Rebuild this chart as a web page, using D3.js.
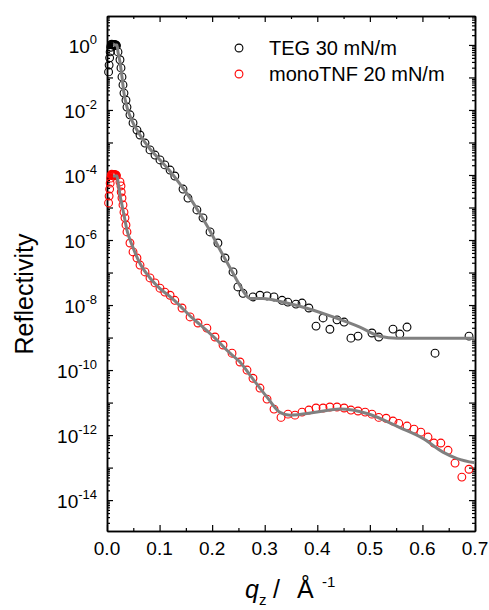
<!DOCTYPE html>
<html>
<head>
<meta charset="utf-8">
<script src="https://cdn.jsdelivr.net/npm/d3@7"></script>
<style>
  body { margin: 0; background: #fff; }
  text { font-family: "Liberation Sans", Arial, sans-serif; fill: #000; }
</style>
</head>
<body>
<svg id="chart"></svg>
<script>
// TEG 30 mN/m  (q in 1/A, R)
const tegQ = [0.003, 0.004, 0.005, 0.006, 0.007, 0.008, 0.009, 0.010, 0.011, 0.012, 0.013, 0.014, 0.015, 0.016, 0.017, 0.018,
  0.0209, 0.0247, 0.0266, 0.0285, 0.0304, 0.0323, 0.0361, 0.038, 0.0437, 0.0495, 0.057, 0.0628, 0.0723, 0.0818, 0.0913,
  0.1008, 0.110, 0.120, 0.129, 0.1446, 0.154, 0.171, 0.1826, 0.196, 0.211, 0.2245, 0.2397, 0.249, 0.2587, 0.2777, 0.291,
  0.3044, 0.3177, 0.333, 0.344, 0.3595, 0.371, 0.384, 0.3976, 0.411, 0.424, 0.4375, 0.451, 0.464, 0.4775, 0.504, 0.517,
  0.544, 0.557, 0.5707, 0.624, 0.6886];
const tegR = [0.148, 0.24, 0.40, 0.61, 0.85, 1.02, 1.05, 1.0, 1.04, 1.0, 1.03, 1.0, 1.02, 0.98, 1.0, 0.95,
  0.61, 0.35, 0.196, 0.104, 0.059, 0.033, 0.020, 0.0123, 0.0071, 0.0040, 0.0024, 0.0017, 9.6e-4, 5.9e-4, 4.1e-4,
  2.9e-4, 2.04e-4, 1.42e-4, 9.3e-5, 3.7e-5, 1.95e-5, 8.4e-6, 4.8e-6, 1.77e-6, 8.1e-7, 2.8e-7, 1.04e-7, 3.6e-8, 2.3e-8, 1.77e-8, 2.0e-8,
  1.9e-8, 1.77e-8, 1.4e-8, 1.23e-8, 1.07e-8, 1.15e-8, 8.1e-9, 2.25e-9, 4.0e-9, 1.8e-9, 3.5e-9, 3.0e-9, 9.6e-10, 1.11e-9, 1.38e-9, 1.04e-9,
  1.82e-9, 1.28e-9, 2.1e-9, 3.3e-10, 1.11e-9];

// monoTNF 20 mN/m
const tnfQ = [0.003, 0.004, 0.005, 0.006, 0.007, 0.008, 0.009, 0.010, 0.011, 0.012, 0.013, 0.014, 0.015, 0.016, 0.017, 0.018,
  0.0247, 0.0266, 0.027, 0.0285, 0.0304, 0.0323, 0.0342, 0.0361, 0.038, 0.0437, 0.0495, 0.057, 0.0628, 0.0723, 0.0818, 0.0913,
  0.1008, 0.110, 0.120, 0.129, 0.1427, 0.158, 0.173, 0.190, 0.2054, 0.2207, 0.2378, 0.253, 0.2663, 0.2777, 0.291, 0.3044,
  0.3177, 0.331, 0.3443, 0.3576, 0.371, 0.384, 0.3976, 0.411, 0.424, 0.4375, 0.451, 0.464, 0.4775, 0.491, 0.504, 0.517,
  0.531, 0.544, 0.555, 0.5707, 0.584, 0.597, 0.6106, 0.622, 0.635, 0.6487, 0.662, 0.675, 0.6886];
const tnfR = [1.38e-5, 2.25e-5, 3.7e-5, 5.6e-5, 8.0e-5, 1.0e-4, 1.05e-4, 1.0e-4, 1.04e-4, 1.0e-4, 1.03e-4, 1.0e-4, 1.02e-4, 0.98e-4, 1.0e-4, 0.95e-4,
  6.1e-5, 4.6e-5, 3.0e-5, 1.96e-5, 1.2e-5, 7.2e-6, 4.8e-6, 2.9e-6, 1.77e-6, 8.1e-7, 4.3e-7, 2.8e-7, 1.7e-7, 1.04e-7, 6.8e-8, 4.8e-8,
  3.3e-8, 2.5e-8, 2.0e-8, 1.4e-8, 8.1e-9, 4.3e-9, 2.8e-9, 1.95e-9, 1.04e-9, 5.9e-10, 3.3e-10, 1.77e-10, 1.0e-10, 5.6e-11, 2.8e-11, 1.28e-11,
  6.3e-12, 3.5e-12, 4.4e-12, 4.1e-12, 5.1e-12, 5.9e-12, 6.8e-12, 6.8e-12, 7.3e-12, 7.3e-12, 6.8e-12, 5.9e-12, 5.5e-12, 5.1e-12, 4.4e-12, 3.5e-12,
  3.3e-12, 2.7e-12, 2.3e-12, 1.9e-12, 1.52e-12, 1.23e-12, 8.7e-13, 5.7e-13, 5.7e-13, 3.4e-13, 1.38e-13, 5.1e-14, 8.9e-14];

// model fits
const tegFitQ = [0.0114, 0.019, 0.0209, 0.0247, 0.0285, 0.0323, 0.038, 0.0476, 0.0628, 0.0818, 0.1008, 0.120, 0.139, 0.158,
  0.177, 0.196, 0.215, 0.234, 0.253, 0.2625, 0.272, 0.2967, 0.338, 0.380, 0.43, 0.481, 0.519, 0.552, 0.614, 0.70];
const tegFitR = [1, 1, 0.61, 0.30, 0.104, 0.033, 0.0123, 0.0046, 0.0017, 6.3e-4, 2.9e-4, 1.3e-4, 5.2e-5, 1.95e-5,
  6.3e-6, 1.9e-6, 5.0e-7, 1.4e-7, 3.9e-8, 2.2e-8, 1.6e-8, 1.6e-8, 1.2e-8, 8.0e-9, 4.3e-9, 2.1e-9, 1.1e-9, 9.6e-10, 9.6e-10, 9.6e-10];
const tnfFitQ = [0.0114, 0.019, 0.021, 0.0247, 0.0285, 0.0323, 0.038, 0.0476, 0.0628, 0.0818, 0.1008, 0.120, 0.139, 0.158,
  0.177, 0.2054, 0.234, 0.253, 0.272, 0.3044, 0.329, 0.348, 0.3995, 0.443, 0.4946, 0.557, 0.601, 0.639, 0.666, 0.70];
const tnfFitR = [9.3e-5, 9.3e-5, 6.1e-5, 2.4e-5, 1.2e-5, 5.9e-6, 2.0e-6, 7.0e-7, 1.9e-7, 6.8e-8, 3.2e-8, 1.8e-8, 9.4e-9, 4.6e-9,
  2.5e-9, 9.6e-10, 3.3e-10, 1.77e-10, 7.0e-11, 1.47e-11, 5.0e-12, 4.1e-12, 5.1e-12, 6.3e-12, 4.6e-12, 1.7e-12, 7.9e-13, 3.0e-13, 1.9e-13, 1.4e-13];

const xTicks = [0, 0.1, 0.2, 0.3, 0.4, 0.5, 0.6, 0.7];
const yLabelExp = [0, -2, -4, -6, -8, -10, -12, -14];
const seriesNames = ["TEG 30 mN/m", "monoTNF 20 mN/m"];
const seriesColors = ["#000000", "#ff0000"];

const width = 489, height = 610;
const margin = {top: 16, right: 14, bottom: 79, left: 107};

const svg = d3.select("#chart").attr("width", width).attr("height", height);

const x = d3.scaleLinear([0, 0.7], [margin.left, width - margin.right]);
const y = d3.scaleLog([Math.pow(10, -14.95), Math.pow(10, 0.89)], [height - margin.bottom, margin.top]);

// minor / major tick values
const xMinor = d3.range(0.05, 0.7, 0.1);
const decades = d3.range(-14, 1).map(e => Math.pow(10, e));
const yMinor = [];
d3.range(-15, 1).forEach(e => {
  for (let k = 2; k <= 9; k++) {
    const v = k * Math.pow(10, e);
    if (v >= y.domain()[0] && v <= y.domain()[1]) yMinor.push(v);
  }
});

function axisStyle(g) {
  g.select(".domain").attr("stroke", "#000").attr("stroke-width", 1.5);
  g.selectAll(".tick line").attr("stroke", "#000").attr("stroke-width", 1.2);
  g.selectAll(".tick text").remove();
}

// bottom and top (ticks point inward)
[[d3.axisBottom, height - margin.bottom], [d3.axisTop, margin.top]].forEach(([ax, ty]) => {
  svg.append("g").attr("transform", `translate(0,${ty})`)
    .call(ax(x).tickValues(xMinor).tickSize(-3).tickSizeOuter(0)).call(axisStyle);
  svg.append("g").attr("transform", `translate(0,${ty})`)
    .call(ax(x).tickValues(xTicks).tickSize(-6).tickSizeOuter(0)).call(axisStyle);
});

// left and right
[[d3.axisLeft, margin.left], [d3.axisRight, width - margin.right]].forEach(([ax, tx]) => {
  svg.append("g").attr("transform", `translate(${tx},0)`)
    .call(ax(y).tickValues(yMinor).tickSize(-3).tickSizeOuter(0)).call(axisStyle);
  svg.append("g").attr("transform", `translate(${tx},0)`)
    .call(ax(y).tickValues(decades).tickSize(-6).tickSizeOuter(0)).call(axisStyle);
});

// x tick labels
svg.append("g").selectAll("text").data(xTicks).join("text")
  .attr("x", d => x(d)).attr("y", height - margin.bottom + 24)
  .attr("text-anchor", "middle").attr("font-size", 19)
  .text(d => d.toFixed(1));

// y tick labels 10^n
const yl = svg.append("g").selectAll("text").data(yLabelExp).join("text")
  .attr("x", margin.left - 10).attr("y", d => y(Math.pow(10, d)) + 8)
  .attr("text-anchor", "end").attr("font-size", 19);
yl.append("tspan").text("10");
yl.append("tspan").attr("font-size", 13).attr("dy", -9).text(d => d);

// axis titles
svg.append("text")
  .attr("transform", "translate(33,294) rotate(-90)")
  .attr("text-anchor", "middle").attr("font-size", 25)
  .text("Reflectivity");

const xt = svg.append("g").attr("font-size", 25);
xt.append("text").attr("x", 245).attr("y", 598).attr("font-style", "italic").text("q");
xt.append("text").attr("x", 259).attr("y", 605).attr("font-size", 15).text("z");
xt.append("text").attr("x", 273).attr("y", 598).text("/");
xt.append("text").attr("x", 297).attr("y", 598).text("Å");
xt.append("text").attr("x", 322).attr("y", 587).attr("font-size", 15).text("-1");

// data points
const series = [
  {q: tegQ, r: tegR, color: seriesColors[0]},
  {q: tnfQ, r: tnfR, color: seriesColors[1]}
];
series.forEach(s => {
  svg.append("g").selectAll("circle").data(d3.range(s.q.length)).join("circle")
    .attr("cx", i => x(s.q[i])).attr("cy", i => y(s.r[i])).attr("r", 3.9)
    .attr("fill", "none").attr("stroke", s.color).attr("stroke-width", 1.1);
});

// fits
const line = d3.line().x(d => x(d[0])).y(d => y(d[1])).curve(d3.curveMonotoneX);
[[tegFitQ, tegFitR], [tnfFitQ, tnfFitR]].forEach(([q, r]) => {
  svg.append("path").datum(q.map((v, i) => [v, r[i]]))
    .attr("d", line).attr("fill", "none").attr("stroke", "#808080").attr("stroke-width", 3);
});

// legend
const lg = svg.append("g");
seriesNames.forEach((name, i) => {
  const ly = 48 + i * 26;
  lg.append("circle").attr("cx", 239).attr("cy", ly).attr("r", 3.9)
    .attr("fill", "none").attr("stroke", seriesColors[i]).attr("stroke-width", 1.1);
  lg.append("text").attr("x", 269).attr("y", ly + 7).attr("font-size", 20).text(name);
});
</script>
</body>
</html>
